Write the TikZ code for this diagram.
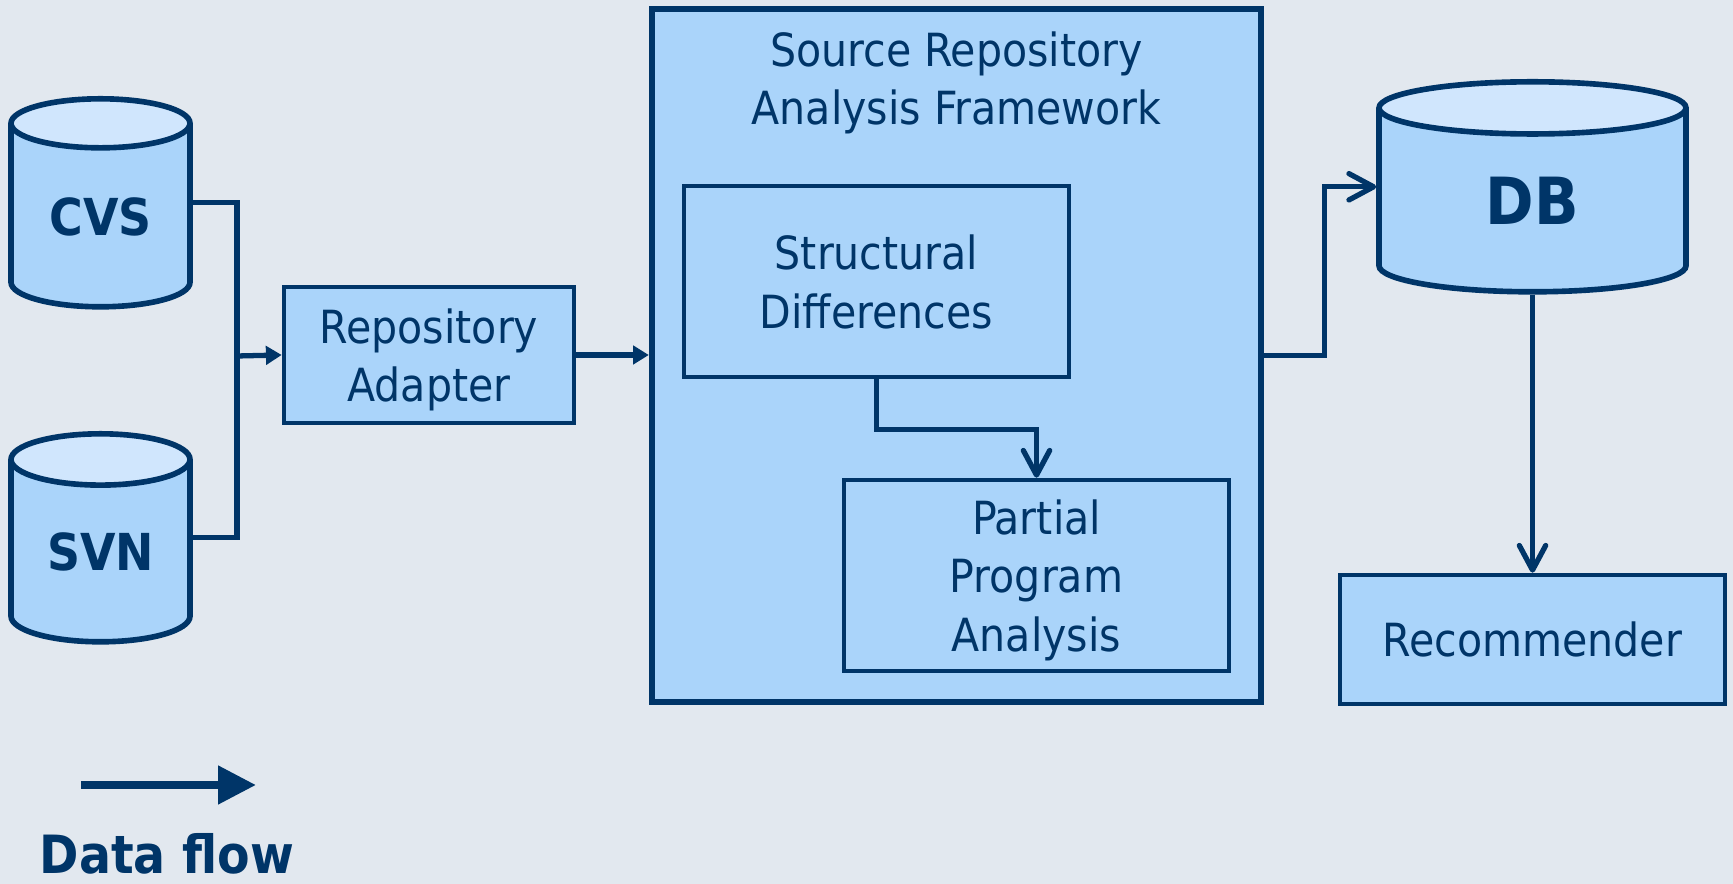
\documentclass[tikz,border=0pt]{standalone}
\usepackage{fontspec}
\setmainfont{DejaVu Sans Condensed}
\usetikzlibrary{arrows.meta,positioning,shapes.geometric,calc}

\definecolor{navy}{RGB}{0,53,104}
\definecolor{paper}{RGB}{226,232,239}
\definecolor{boxblue}{RGB}{170,212,250}
\definecolor{lidblue}{RGB}{208,230,253}

\tikzset{
  box/.style={draw=navy,line width=1.3pt,fill=boxblue,text=navy,align=center,
    font=\fontsize{13}{16.6}\selectfont,inner sep=0pt,text depth=0pt},
  store/.style={cylinder,shape border rotate=90,draw=navy,line width=1.6pt,
    cylinder uses custom fill,cylinder body fill=boxblue,cylinder end fill=lidblue,
    text=navy,font=\bfseries\fontsize{14.5}{17}\selectfont,inner sep=0pt,anchor=top},
  flow/.style={draw=navy,line width=1.5pt,-{Triangle[length=4.5pt,width=5.2pt]}},
  feed/.style={draw=navy,line width=1.5pt,-{Straight Barb[length=7pt,width=7.5pt,round]}},
}

\begin{document}
\begin{tikzpicture}
    \fill[paper] (0,0) rectangle (17.33,8.84);
    \useasboundingbox (0,0) rectangle (17.33,8.84);

    % repositories
    \node[store,minimum width=1.79cm,minimum height=2.08cm,aspect=0.48] (cvs) at (1.005,7.88) {CVS};
    \node[store,minimum width=1.79cm,minimum height=2.08cm,aspect=0.48] (svn) at (1.005,4.53) {SVN};
    \node[box,minimum width=2.9cm,minimum height=1.36cm] (adapter) at (4.29,5.29) {Repository\\Adapter};

    % framework
    \node[box,line width=1.8pt,minimum width=6.09cm,minimum height=6.93cm] (fw) at (9.565,5.285) {};
    \node[text=navy,align=center,font=\fontsize{13}{16.6}\selectfont] (fwtitle) at (9.565,8.01) {Source Repository\\Analysis Framework};
    \node[box,minimum width=3.85cm,minimum height=1.91cm] (diff) at (8.765,6.025) {Structural\\Differences};
    \node[box,minimum width=3.85cm,minimum height=1.91cm] (ppa) at (10.365,3.085) {Partial\\Program\\Analysis};

    % storage
    \node[store,minimum width=3.07cm,minimum height=2.1cm,aspect=0.56,font=\bfseries\fontsize{18.5}{22}\selectfont] (db) at (15.325,8.05) {DB};
    \node[box,minimum width=3.85cm,minimum height=1.29cm] (rec) at (15.325,2.445) {Recommender};

    % connectors
    \coordinate (cvsmid) at ($(cvs.top)!0.5!(cvs.bottom)$);
    \coordinate (svnmid) at ($(svn.top)!0.5!(svn.bottom)$);
    \coordinate (dbmid) at ($(db.top)!0.5!(db.bottom)$);
    \coordinate (join) at (2.37,5.28);
    \draw[navy,line width=1.5pt] (cvsmid -| cvs.east) -| (join) |- (svnmid -| svn.east);
    \draw[flow] (join) -- (adapter.west);
    \draw[flow] (adapter.east) -- (adapter.east -| fw.west);
    \draw[feed] (diff.south) -- ++(0,-0.5) -| (ppa.north);
    \draw[feed] (fw.east) -- ++(0.6,0) |- (dbmid -| db.west);
    \draw[feed] (db.bottom) -- (rec.north);

    % legend
    \coordinate (keyA) at (0.81,0.99);
    \coordinate (keyB) at (2.56,0.99);
    \draw[navy,line width=2.3pt,-{Triangle[length=10.8pt,width=10.5pt]}] (keyA) -- (keyB);
    \node[text=navy,font=\bfseries\fontsize{15}{18}\selectfont,anchor=base] (keytext) at (1.67,0.1) {Data flow};
\end{tikzpicture}
\end{document}
